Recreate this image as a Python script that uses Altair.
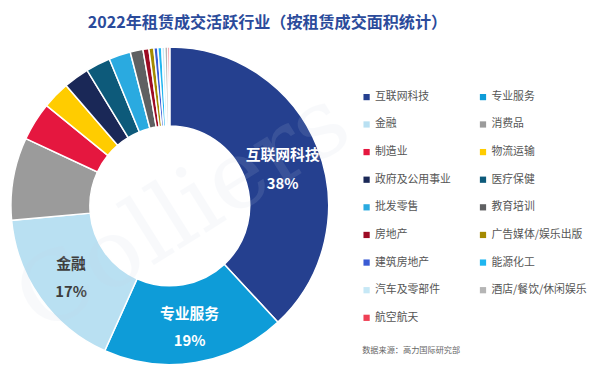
import altair as alt
import pandas as pd

categories = ["互联网科技", "专业服务", "金融", "消费品", "制造业", "物流运输",
              "政府及公用事业", "医疗保健", "批发零售", "教育培训", "房地产",
              "广告媒体/娱乐出版", "建筑房地产", "能源化工", "汽车及零部件",
              "酒店/餐饮/休闲娱乐", "航空航天"]
shares = [38.0, 18.6, 16.8, 8.4, 3.9, 2.8, 2.6, 2.5, 2.2, 1.3, 0.6, 0.5, 0.4, 0.4, 0.3, 0.3, 0.2]
colors = ["#25408F", "#0E9CD8", "#B9E0F2", "#9B9B9B", "#E5173F", "#FFCC00",
          "#1A2857", "#0D5A7A", "#2AAAE0", "#5F6062", "#9D0B24", "#A48A00",
          "#3A5BD4", "#1FB6F0", "#C6E8F6", "#B5B5B5", "#EF4055"]
label_names = ["互联网科技", "专业服务", "金融"]
label_pcts = ["38%", "19%", "17%"]

title_text = "2022年租赁成交活跃行业（按租赁成交面积统计）"
source_text = "数据来源：高力国际研究部"

df = pd.DataFrame({"行业": categories, "share": shares, "idx": list(range(len(categories)))})
lab = {n: p for n, p in zip(label_names, label_pcts)}
df["name_lbl"] = [c if c in lab else "" for c in categories]
df["pct_lbl"] = [lab.get(c, "") for c in categories]
df["mid"] = df["share"].cumsum() - df["share"] / 2
total = float(df["share"].sum())

CX, CY = 164, 198
FONT = "Noto Sans CJK SC"

arcs = alt.Chart(df).mark_arc(innerRadius=81, outerRadius=161, stroke="white", strokeWidth=1.5).encode(
    theta=alt.Theta("share:Q", stack=True),
    order=alt.Order("idx:Q"),
    x=alt.value(CX), y=alt.value(CY),
    color=alt.Color("行业:N", sort=categories,
                    scale=alt.Scale(domain=categories, range=colors),
                    legend=alt.Legend(title=None, orient="none", legendX=358, legendY=82,
                                      columns=2, direction="horizontal",
                                      symbolType="square", symbolSize=40,
                                      symbolStrokeWidth=0, labelFontSize=11, labelFont=FONT,
                                      labelColor="#555555", labelOffset=3, rowPadding=16,
                                      columnPadding=27, padding=0, labelLimit=200)),
)

txt_color = alt.condition(alt.datum["行业"] == "金融", alt.value("#3D3D3D"), alt.value("white"))
is_top = alt.datum["行业"] == "互联网科技"
not_top = (alt.datum["行业"] != "互联网科技") & (alt.datum.name_lbl != "")


def label_layer(field, dy, flt):
    return alt.Chart(df).mark_text(radius=123, dy=dy, fontSize=15, fontWeight="bold", font=FONT).encode(
        theta=alt.Theta("mid:Q", stack=None, scale=alt.Scale(domain=[0, total])),
        x=alt.value(CX), y=alt.value(CY), text=f"{field}:N", color=txt_color
    ).transform_filter(flt)


names_a = label_layer("name_lbl", -12, not_top)
pcts_a = label_layer("pct_lbl", 16, not_top)
names_b = label_layer("name_lbl", -6, is_top)
pcts_b = label_layer("pct_lbl", 23, is_top)

watermark = alt.Chart(pd.DataFrame({"t": ["Colliers"]})).mark_text(
    font="DejaVu Serif", fontSize=96, angle=328, color="#C8D4E6", opacity=0.12,
).encode(x=alt.value(178), y=alt.value(205), text="t:N")

title = alt.Chart(pd.DataFrame({"t": [title_text]})).mark_text(
    font=FONT, fontSize=16.3, fontWeight="bold", color="#2B4B9B", baseline="middle", align="center"
).encode(x=alt.value(263), y=alt.value(13), text="t:N")

source = alt.Chart(pd.DataFrame({"t": [source_text]})).mark_text(
    font=FONT, fontSize=8.3, color="#666666", baseline="middle", align="left"
).encode(x=alt.value(359), y=alt.value(345), text="t:N")

chart = alt.layer(arcs, names_a, pcts_a, names_b, pcts_b, watermark, title, source).properties(
    width=592, height=374, autosize=alt.AutoSizeParams(type="none"), padding=0
).configure_view(stroke=None)

chart.save("out.html", embed_options={"renderer": "svg", "actions": False})
